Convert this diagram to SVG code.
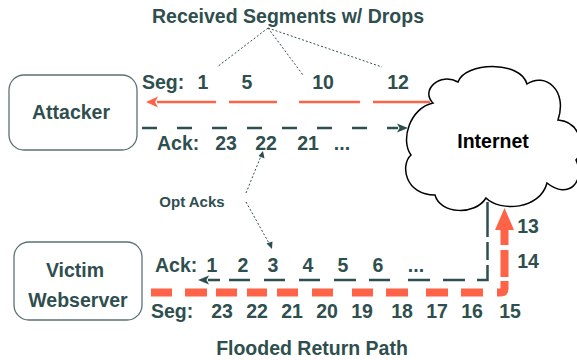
<svg xmlns="http://www.w3.org/2000/svg" width="577" height="360" viewBox="0 0 577 360">
<style>
text{font-family:"Liberation Sans",Arial,sans-serif;font-weight:bold;fill:#2F4F4F;font-size:19.5px}
.m{text-anchor:middle}
.box{fill:#fff;stroke:#5a7272;stroke-width:1.3}
.dot{fill:none;stroke:#2F4F4F;stroke-width:1;stroke-dasharray:2 2}
.dk{fill:none;stroke:#2F4F4F;stroke-width:2.5}
.or{fill:none;stroke:#FF6347}
</style>
<rect width="577" height="360" fill="#fff"/>
<g id="attacker">
<rect class="box" x="9" y="75" width="128" height="75" rx="15"/>
<text class="m" x="71" y="119">Attacker</text>
</g>
<g id="victim">
<rect class="box" x="14" y="242" width="128" height="78" rx="15"/>
<text class="m" x="75" y="277">Victim</text>
<text class="m" x="78" y="307">Webserver</text>
</g>
<g id="internet">
<path d="M433,103 C420,90 440,72 458,82 C465,62 520,60 527,84 C545,72 568,90 558,120 C582,122 585,150 576,160 C586,182 568,200 547,183 C540,210 500,212 486,198 C475,216 440,214 435,195 C405,195 400,165 411,155 C400,140 410,108 433,103 Z" fill="#fff" stroke="#000" stroke-width="1.5"/>
<text class="m" x="493" y="148" style="fill:#000">Internet</text>
</g>
<g id="connectors">
<path class="or" stroke-width="2.7" d="M430,102 H157" stroke-dasharray="57 13 61 22 48 13 59"/>
<polygon fill="#FF6347" points="146,102 158,96.5 155,102 158,107.5"/>
<path class="dk" d="M142,128 H398" stroke-dasharray="15 20"/>
<polygon fill="#2F4F4F" points="408,128 397,123.5 399.5,128 397,132.5"/>
<path class="dk" d="M487.5,202 V280 H208" stroke-dasharray="35 5 18 5 25.5 12 22 13 22 18 21 13 22 14 21 14 21 14 21 9 12"/>
<polygon fill="#2F4F4F" points="198,280 209,275.5 206.5,280 209,284.5"/>
<path class="or" stroke-width="8" d="M151,292.5 H500.5 Q504.5,292.5 504.5,288.5 V230" stroke-dasharray="21 13 22 9 21 10 20 10 21 14 21 19 21 13 22 18 22 13 22 14 17.3 4 27 5 15"/>
<polygon fill="#FF6347" points="504.5,208 514,230 495,230"/>
<path class="dot" d="M268,28 L217,67 M268,28 L303,75 M268,28 L382,67"/>
<path class="dot" d="M246,193 L261,156 M246,202 L270,245"/>
<polygon fill="#2F4F4F" points="263,151 264.5,158.5 258.5,156"/>
<polygon fill="#2F4F4F" points="272,249 266.5,243.5 272.5,241.5"/>
</g>
<g id="labels">
<text class="m" x="288" y="23">Received Segments w/ Drops</text>
<text x="142" y="89">Seg:</text>
<text class="m" x="203" y="89">1</text>
<text class="m" x="247" y="89">5</text>
<text class="m" x="323" y="89">10</text>
<text class="m" x="398" y="89">12</text>
<text x="157" y="150">Ack:</text>
<text class="m" x="226" y="150">23</text>
<text class="m" x="266" y="150">22</text>
<text class="m" x="308" y="150">21</text>
<text class="m" x="342" y="150">...</text>
<text class="m" x="192" y="207" style="font-size:15px">Opt Acks</text>
<text x="155" y="272">Ack:</text>
<text class="m" x="212" y="272">1</text>
<text class="m" x="243" y="272">2</text>
<text class="m" x="273" y="272">3</text>
<text class="m" x="308" y="272">4</text>
<text class="m" x="343" y="272">5</text>
<text class="m" x="378" y="272">6</text>
<text class="m" x="416" y="272">...</text>
<text x="151" y="318">Seg:</text>
<text class="m" x="222" y="318">23</text>
<text class="m" x="257" y="318">22</text>
<text class="m" x="292" y="318">21</text>
<text class="m" x="327" y="318">20</text>
<text class="m" x="362" y="318">19</text>
<text class="m" x="402" y="318">18</text>
<text class="m" x="437" y="318">17</text>
<text class="m" x="472" y="318">16</text>
<text class="m" x="510" y="318">15</text>
<text class="m" x="528" y="233">13</text>
<text class="m" x="528" y="268">14</text>
<text class="m" x="312" y="355">Flooded Return Path</text>
</g>
</svg>
